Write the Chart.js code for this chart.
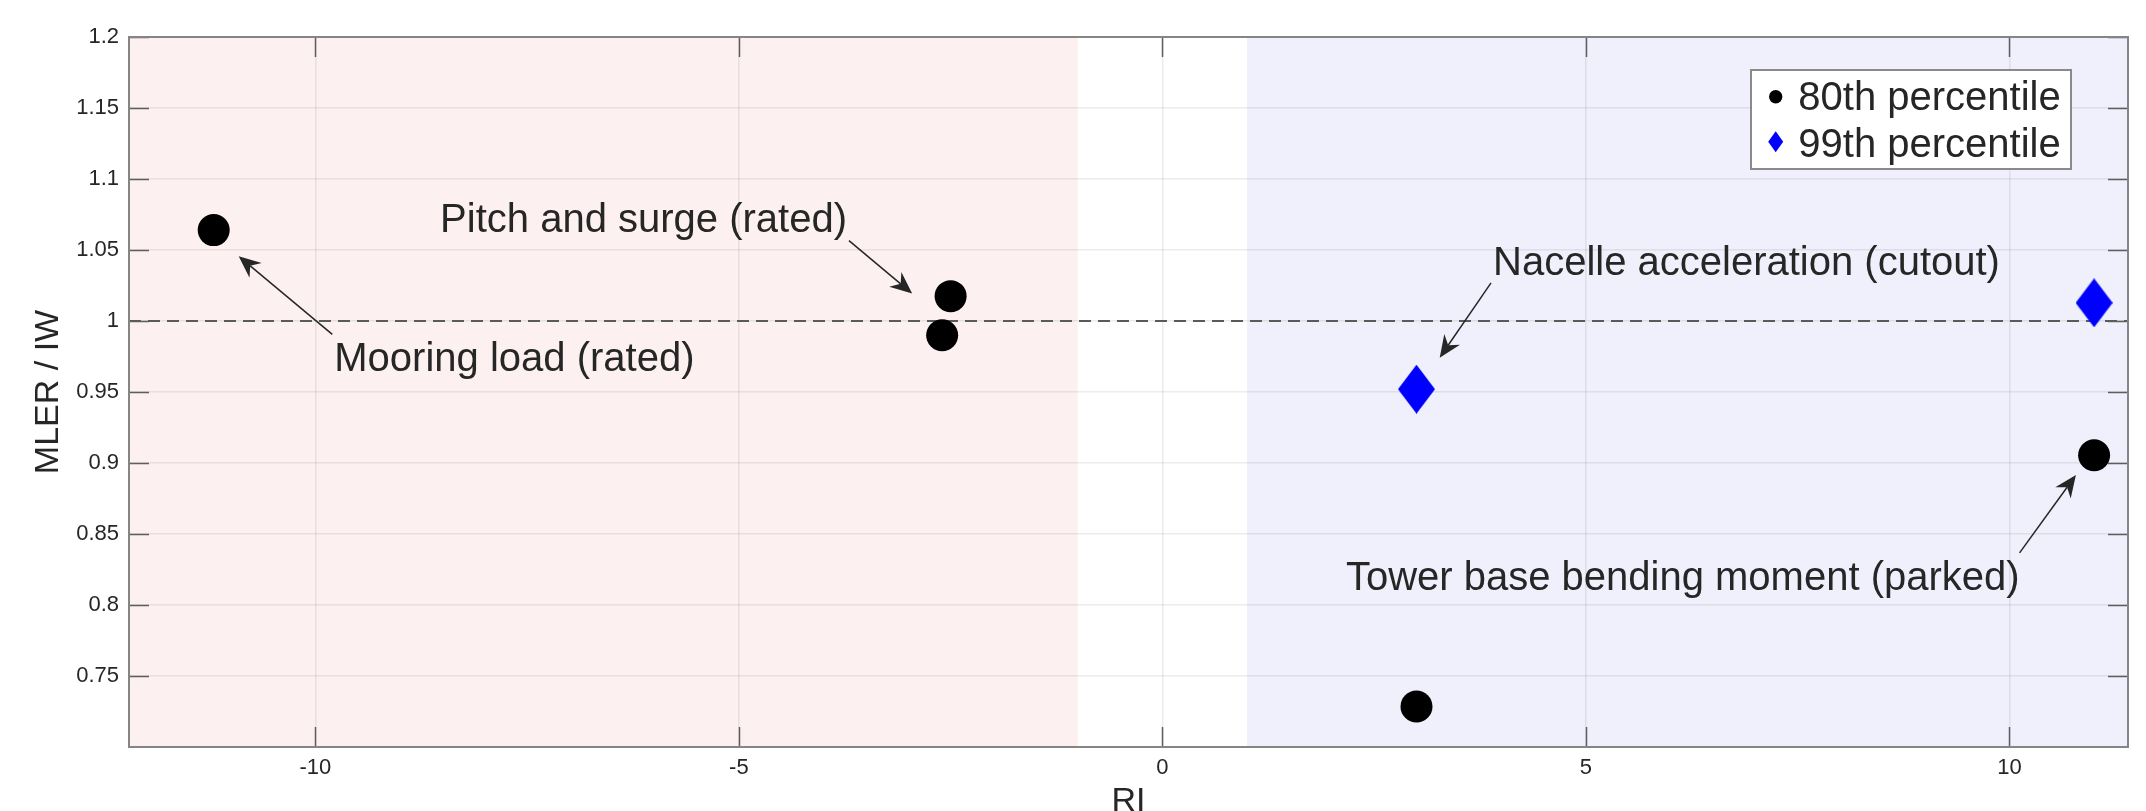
<!DOCTYPE html>
<html>
<head>
<meta charset="utf-8">
<script src="https://cdn.jsdelivr.net/npm/chart.js@4/dist/chart.umd.min.js"></script>
<style>
  html, body { margin: 0; padding: 0; background: #ffffff; overflow: hidden; }
  canvas { display: block; }
</style>
</head>
<body>
<canvas id="chart" width="2146" height="811"></canvas>
<script>
// ---- data ----
const seriesLabels = ['80th percentile', '99th percentile'];
const p80X = [-11.2, -2.5, -2.6, 3, 11];
const p80Y = [1.064, 1.0175, 0.990, 0.7285, 0.9055];
const p99X = [3, 11];
const p99Y = [0.952, 1.0128];

const xTickValues = [-10, -5, 0, 5, 10];
const yTickValues = [0.75, 0.8, 0.85, 0.9, 0.95, 1, 1.05, 1.1, 1.15, 1.2];
const xLimits = [-12.2, 11.4];
const yLimits = [0.7, 1.2];

const refLevel = 1;          // MLER / IW = 1 reference
const lowBandEnd = -1;       // shaded band for RI < -1
const highBandStart = 1;     // shaded band for RI > 1

// callouts: text, arrow tail and arrow head in data units
const noteTexts = ['Mooring load (rated)', 'Pitch and surge (rated)', 'Nacelle acceleration (cutout)', 'Tower base bending moment (parked)'];
const noteTailX = [-9.80, -3.70, 3.88, 10.12];
const noteTailY = [0.9906, 1.0566, 1.0269, 0.8367];
const noteHeadX = [-10.905, -2.954, 3.274, 10.785];
const noteHeadY = [1.0456, 1.0194, 0.9742, 0.8915];

// ---- styles ----
const FONT = '"Liberation Sans", Arial, Helvetica, sans-serif';
const TEXT = '#262626';
const noteAlign = ['left', 'right', 'left', 'right'];
const noteDx = [2, -2, 2, 0];
const noteDy = [37, -9, -8, 37];

function diamond(w, h, color) {
  const c = document.createElement('canvas');
  c.width = w; c.height = h;
  const g = c.getContext('2d');
  g.fillStyle = color;
  g.beginPath();
  g.moveTo(w / 2, 0); g.lineTo(w, h / 2); g.lineTo(w / 2, h); g.lineTo(0, h / 2);
  g.closePath(); g.fill();
  return c;
}
const bigDiamond = diamond(37, 49, '#0000ff');

function arrow(ctx, x0, y0, x1, y1) {
  const ang = Math.atan2(y1 - y0, x1 - x0);
  const L = 22, W = 9.5, N = 15;
  ctx.beginPath();
  ctx.moveTo(x0, y0);
  ctx.lineTo(x1 - N * Math.cos(ang), y1 - N * Math.sin(ang));
  ctx.stroke();
  ctx.save();
  ctx.translate(x1, y1);
  ctx.rotate(ang);
  ctx.beginPath();
  ctx.moveTo(0, 0);
  ctx.lineTo(-L, -W);
  ctx.lineTo(-N, 0);
  ctx.lineTo(-L, W);
  ctx.closePath();
  ctx.fill();
  ctx.restore();
}

const decor = {
  id: 'decor',
  beforeDraw(chart) {
    const { ctx, chartArea: a, scales: { x } } = chart;
    ctx.save();
    const xl = x.getPixelForValue(lowBandEnd);
    const xh = x.getPixelForValue(highBandStart);
    ctx.fillStyle = '#fdf0f0';
    ctx.fillRect(a.left, a.top, xl - a.left, a.bottom - a.top);
    ctx.fillStyle = '#f0f0fd';
    ctx.fillRect(xh, a.top, a.right - xh, a.bottom - a.top);
    ctx.restore();
  },
  beforeDatasetsDraw(chart) {
    const { ctx, chartArea: a, scales: { y } } = chart;
    const py = y.getPixelForValue(refLevel);
    ctx.save();
    ctx.strokeStyle = '#5a5a5a';
    ctx.lineWidth = 1.8;
    ctx.setLineDash([12, 7]);
    ctx.beginPath();
    ctx.moveTo(a.left, py);
    ctx.lineTo(a.right, py);
    ctx.stroke();
    ctx.restore();
  },
  afterDatasetsDraw(chart) {
    const { ctx, chartArea: a, scales: { x, y } } = chart;
    ctx.save();
    // inward tick marks on all four sides
    ctx.strokeStyle = '#5e5e5e';
    ctx.lineWidth = 1.5;
    const tl = 20;
    ctx.beginPath();
    x.ticks.forEach(t => {
      const px = Math.round(x.getPixelForValue(t.value)) + 0.5;
      ctx.moveTo(px, a.bottom); ctx.lineTo(px, a.bottom - tl);
      ctx.moveTo(px, a.top); ctx.lineTo(px, a.top + tl);
    });
    y.ticks.forEach(t => {
      const py = Math.round(y.getPixelForValue(t.value)) + 0.5;
      ctx.moveTo(a.left, py); ctx.lineTo(a.left + tl, py);
      ctx.moveTo(a.right, py); ctx.lineTo(a.right - tl, py);
    });
    ctx.stroke();
    // axes box
    ctx.strokeStyle = '#858585';
    ctx.lineWidth = 2;
    ctx.strokeRect(a.left, a.top, a.right - a.left, a.bottom - a.top);
    ctx.restore();
  },
  afterDraw(chart) {
    const { ctx, chartArea: a, scales: { x, y } } = chart;
    ctx.save();
    // callouts
    ctx.strokeStyle = TEXT;
    ctx.fillStyle = TEXT;
    ctx.lineWidth = 1.5;
    ctx.font = '40px ' + FONT;
    ctx.textBaseline = 'alphabetic';
    noteTexts.forEach((txt, i) => {
      const tx = x.getPixelForValue(noteTailX[i]);
      const ty = y.getPixelForValue(noteTailY[i]);
      const hx = x.getPixelForValue(noteHeadX[i]);
      const hy = y.getPixelForValue(noteHeadY[i]);
      arrow(ctx, tx, ty, hx, hy);
      ctx.textAlign = noteAlign[i];
      ctx.fillText(txt, tx + noteDx[i], ty + noteDy[i]);
    });
    // legend box
    const bw = 320, bh = 99;
    const bx = a.right - 57 - bw, by = a.top + 33;
    ctx.fillStyle = '#ffffff';
    ctx.fillRect(bx, by, bw, bh);
    ctx.strokeStyle = '#8a8a8a';
    ctx.lineWidth = 2;
    ctx.strokeRect(bx, by, bw, bh);
    const ds = chart.data.datasets;
    ctx.textAlign = 'left';
    ds.forEach((d, i) => {
      const my = by + 26.7 + 45 * i;
      const mx = bx + 24.7;
      ctx.fillStyle = d.backgroundColor;
      if (d.pointStyle === 'circle') {
        ctx.beginPath();
        ctx.arc(mx, my, 6.7, 0, Math.PI * 2);
        ctx.fill();
      } else {
        ctx.beginPath();
        ctx.moveTo(mx, my - 10.5); ctx.lineTo(mx + 7.5, my);
        ctx.lineTo(mx, my + 10.5); ctx.lineTo(mx - 7.5, my);
        ctx.closePath(); ctx.fill();
      }
      ctx.fillStyle = TEXT;
      ctx.fillText(d.label, bx + 47.3, by + 40 + 46.7 * i);
    });
    ctx.restore();
  }
};

Chart.defaults.font.family = FONT;
Chart.defaults.color = TEXT;

const fmt = v => String(parseFloat(Number(v).toFixed(2)));

new Chart(document.getElementById('chart'), {
  type: 'scatter',
  data: {
    datasets: [
      {
        label: seriesLabels[0],
        data: p80X.map((v, i) => ({ x: v, y: p80Y[i] })),
        pointStyle: 'circle',
        pointRadius: 16,
        pointHoverRadius: 16,
        backgroundColor: '#000000',
        borderWidth: 0
      },
      {
        label: seriesLabels[1],
        data: p99X.map((v, i) => ({ x: v, y: p99Y[i] })),
        pointStyle: bigDiamond,
        pointRadius: 18,
        pointHoverRadius: 18,
        backgroundColor: '#0000ff',
        borderWidth: 0
      }
    ]
  },
  options: {
    responsive: false,
    animation: false,
    devicePixelRatio: 1,
    events: [],
    layout: { padding: { left: 0, right: 17, top: 37, bottom: 0 } },
    plugins: { legend: { display: false }, tooltip: { enabled: false } },
    scales: {
      x: {
        type: 'linear',
        min: xLimits[0],
        max: xLimits[1],
        afterBuildTicks: s => { s.ticks = xTickValues.map(v => ({ value: v })); },
        afterFit: s => { s.height = 64; },
        border: { display: false },
        grid: { color: 'rgba(30,30,30,0.085)', lineWidth: 1.5, drawTicks: false },
        ticks: { padding: 8, font: { size: 22 }, color: TEXT, callback: v => fmt(v), maxRotation: 0 },
        title: { display: true, text: 'RI', font: { size: 34 }, color: TEXT, padding: { top: 0, bottom: -11 } }
      },
      y: {
        type: 'linear',
        min: yLimits[0],
        max: yLimits[1],
        afterBuildTicks: s => { s.ticks = yTickValues.map(v => ({ value: v })); },
        afterFit: s => { s.width = 129; },
        border: { display: false },
        grid: { color: 'rgba(30,30,30,0.085)', lineWidth: 1.5, drawTicks: false },
        ticks: { padding: 10, font: { size: 22 }, color: TEXT, callback: v => fmt(v) },
        title: { display: true, text: 'MLER / IW', font: { size: 34 }, color: TEXT, padding: { top: 28, bottom: 0 } }
      }
    }
  },
  plugins: [decor]
});
</script>
</body>
</html>
